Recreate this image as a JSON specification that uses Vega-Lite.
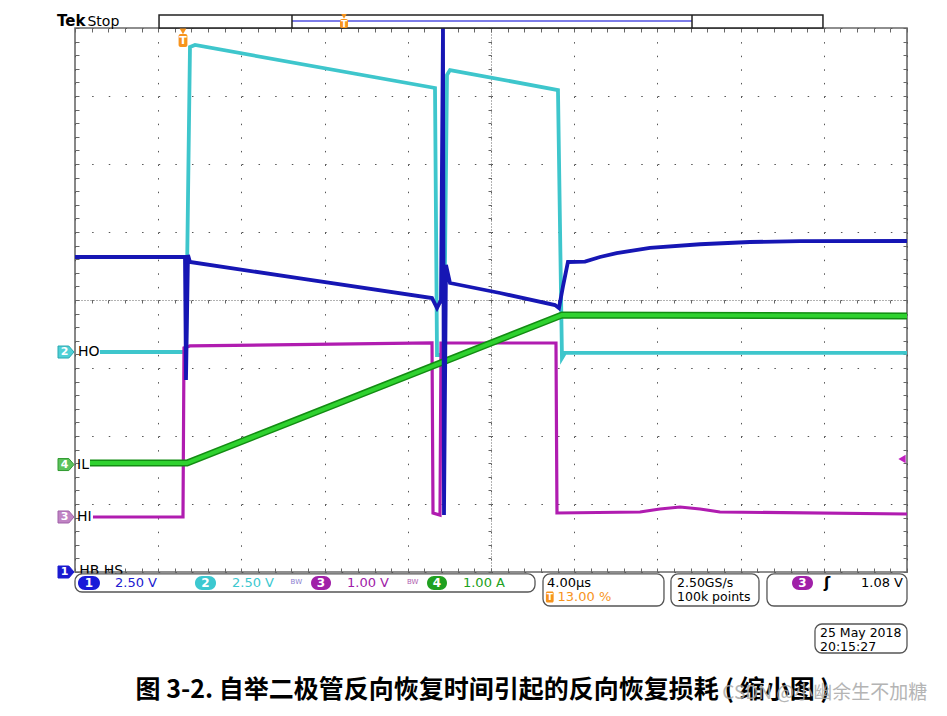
{
"$schema": "https://vega.github.io/schema/vega-lite/v6.json",
"width": 832, "height": 544,
"autosize": {"type": "none"},
"padding": {"left": 75, "top": 28, "right": 40, "bottom": 144},
"background": "white",
"config": {"view": {"stroke": "#6a6a6a", "strokeWidth": 1.6}, "text": {"font": "DejaVu Sans"}},
"datasets": {
 "ch1": [{"t":0,"v":0.632},{"t":1.322,"v":0.632},{"t":1.334,"v":-1.176},{"t":1.358,"v":0.662},{"t":1.382,"v":0.559},{"t":2.704,"v":0.318},{"t":4.291,"v":0.029},{"t":4.351,"v":-0.118},{"t":4.399,"v":0.0},{"t":4.423,"v":4.0},{"t":4.435,"v":-3.162},{"t":4.459,"v":0.515},{"t":4.507,"v":0.25},{"t":5.108,"v":0.103},{"t":5.769,"v":-0.074},{"t":5.817,"v":-0.118},{"t":5.865,"v":0.2},{"t":5.925,"v":0.559},{"t":6.13,"v":0.565},{"t":6.31,"v":0.632},{"t":6.51,"v":0.69},{"t":6.911,"v":0.765},{"t":7.512,"v":0.82},{"t":8.113,"v":0.853},{"t":8.714,"v":0.865},{"t":10,"v":0.868}],
 "ch2": [{"t":0.3,"v":-0.765},{"t":1.334,"v":-0.765},{"t":1.382,"v":3.721},{"t":1.442,"v":3.75},{"t":4.327,"v":3.118},{"t":4.351,"v":-0.809},{"t":4.435,"v":-0.809},{"t":4.471,"v":3.309},{"t":4.507,"v":3.382},{"t":5.805,"v":3.088},{"t":5.853,"v":-0.853},{"t":5.889,"v":-0.779},{"t":10,"v":-0.779}],
 "ch3": [{"t":0.216,"v":-3.191},{"t":1.298,"v":-3.191},{"t":1.31,"v":-0.706},{"t":1.382,"v":-0.676},{"t":4.291,"v":-0.632},{"t":4.303,"v":-3.132},{"t":4.387,"v":-3.162},{"t":4.399,"v":-0.632},{"t":5.781,"v":-0.632},{"t":5.793,"v":-3.132},{"t":6.791,"v":-3.118},{"t":7.031,"v":-3.074},{"t":7.272,"v":-3.044},{"t":7.512,"v":-3.074},{"t":7.752,"v":-3.118},{"t":10,"v":-3.147}],
 "ch4": [{"t":0.18,"v":-2.397},{"t":1.346,"v":-2.397},{"t":5.853,"v":-0.221},{"t":10,"v":-0.235}]
},
"data": {"values": [{}]},
"resolve": {"axis": {"x": "independent", "y": "independent"}},
"layer": [
 {"data": {"name": "ch2"}, "mark": {"type": "line", "color": "#3ec6cc", "strokeWidth": 3.8},
  "encoding": {
   "x": {"field": "t", "type": "quantitative", "scale": {"domain": [0, 10], "nice": false, "zero": false},
         "axis": {"orient": "bottom", "tickCount": 10, "grid": true, "gridDash": [1.5, 12.1], "gridColor": "#555", "gridWidth": 1, "ticks": false, "labels": false, "domain": false, "title": null}},
   "y": {"field": "v", "type": "quantitative", "scale": {"domain": [-4, 4], "nice": false, "zero": false},
         "axis": {"orient": "left", "tickCount": 8, "grid": true, "gridDash": [1.5, 15.14], "gridColor": "#555", "gridWidth": 1, "ticks": false, "labels": false, "domain": false, "title": null}}}},
 {"data": {"name": "ch3"}, "mark": {"type": "line", "color": "#b01cb0", "strokeWidth": 3.2},
  "encoding": {
   "x": {"field": "t", "type": "quantitative", "scale": {"domain": [0, 10], "nice": false, "zero": false},
         "axis": {"orient": "top", "tickCount": 50, "tickSize": -4, "tickColor": "#666", "labels": false, "domain": false, "grid": false, "title": null}},
   "y": {"field": "v", "type": "quantitative", "scale": {"domain": [-4, 4], "nice": false, "zero": false},
         "axis": {"orient": "right", "tickCount": 40, "tickSize": -4, "tickColor": "#666", "labels": false, "domain": false, "grid": false, "title": null}}}},
 {"data": {"name": "ch4"}, "mark": {"type": "line", "color": "#138c13", "strokeWidth": 7},
  "encoding": {
   "x": {"field": "t", "type": "quantitative", "scale": {"domain": [0, 10], "nice": false, "zero": false},
         "axis": {"orient": "bottom", "tickCount": 50, "tickSize": -4, "tickColor": "#666", "labels": false, "domain": false, "grid": false, "title": null}},
   "y": {"field": "v", "type": "quantitative", "scale": {"domain": [-4, 4], "nice": false, "zero": false},
         "axis": {"orient": "left", "tickCount": 40, "tickSize": -4, "tickColor": "#666", "labels": false, "domain": false, "grid": false, "title": null}}}},
 {"data": {"name": "ch4"}, "mark": {"type": "line", "color": "#2fd22f", "strokeWidth": 4},
  "encoding": {
   "x": {"field": "t", "type": "quantitative", "scale": {"domain": [0, 10], "nice": false, "zero": false},
         "axis": {"orient": "bottom", "offset": -272, "tickCount": 50, "tickSize": 3, "tickColor": "#666", "domain": true, "domainDash": [1, 2], "domainColor": "#666", "labels": false, "grid": false, "title": null}},
   "y": {"field": "v", "type": "quantitative", "scale": {"domain": [-4, 4], "nice": false, "zero": false},
         "axis": {"orient": "left", "offset": -416, "tickCount": 40, "tickSize": 3, "tickColor": "#666", "domain": true, "domainDash": [1, 2], "domainColor": "#666", "labels": false, "grid": false, "title": null}}}},
 {"data": {"name": "ch1"}, "mark": {"type": "line", "color": "#1616b4", "strokeWidth": 3.8},
  "encoding": {
   "x": {"field": "t", "type": "quantitative", "scale": {"domain": [0, 10], "nice": false, "zero": false}, "axis": null},
   "y": {"field": "v", "type": "quantitative", "scale": {"domain": [-4, 4], "nice": false, "zero": false}, "axis": null}}},

 {"mark": {"type": "text", "text": "Tek", "fontSize": 15, "fontWeight": "bold", "align": "left", "baseline": "alphabetic", "color": "#000", "letterSpacing": -1},
  "encoding": {"x": {"datum": -0.216, "type": "quantitative", "axis": null}, "y": {"datum": 4.03, "type": "quantitative", "axis": null}}},
 {"mark": {"type": "text", "text": "Stop", "fontSize": 14, "align": "left", "baseline": "alphabetic", "color": "#000"},
  "encoding": {"x": {"datum": 0.15, "type": "quantitative", "axis": null}, "y": {"datum": 4.03, "type": "quantitative", "axis": null}}},
 {"mark": {"type": "rect", "fill": "white", "stroke": "#222", "strokeWidth": 1.5},
  "encoding": {"x": {"datum": 1.01, "type": "quantitative", "axis": null}, "x2": {"datum": 8.99}, "y": {"datum": 4.0, "type": "quantitative", "axis": null}, "y2": {"datum": 4.191}}},
 {"mark": {"type": "rule", "color": "#5050e0", "strokeWidth": 1.5},
  "encoding": {"x": {"datum": 2.608, "type": "quantitative", "axis": null}, "x2": {"datum": 7.416}, "y": {"datum": 4.103, "type": "quantitative", "axis": null}}},
 {"mark": {"type": "rule", "color": "#222", "strokeWidth": 1.5},
  "encoding": {"x": {"datum": 2.608, "type": "quantitative", "axis": null}, "y": {"datum": 4.0, "type": "quantitative", "axis": null}, "y2": {"datum": 4.191}}},
 {"mark": {"type": "rule", "color": "#222", "strokeWidth": 1.5},
  "encoding": {"x": {"datum": 7.416, "type": "quantitative", "axis": null}, "y": {"datum": 4.0, "type": "quantitative", "axis": null}, "y2": {"datum": 4.191}}},
 {"mark": {"type": "rect", "fill": "#f7941d", "cornerRadius": 2},
  "encoding": {"x": {"datum": 3.185, "type": "quantitative", "axis": null}, "x2": {"datum": 3.281}, "y": {"datum": 4.0, "type": "quantitative", "axis": null}, "y2": {"datum": 4.132}}},
 {"mark": {"type": "point", "shape": "triangle-down", "filled": true, "color": "#f7941d", "size": 30, "opacity": 1},
  "encoding": {"x": {"datum": 3.233, "type": "quantitative", "axis": null}, "y": {"datum": 4.17, "type": "quantitative", "axis": null}}},
 {"mark": {"type": "text", "text": "T", "fontSize": 9, "fontWeight": "bold", "color": "white", "align": "center", "baseline": "middle"},
  "encoding": {"x": {"datum": 3.233, "type": "quantitative", "axis": null}, "y": {"datum": 4.066, "type": "quantitative", "axis": null}}},

 {"mark": {"type": "point", "shape": "triangle-down", "filled": true, "color": "#f7941d", "size": 45, "opacity": 1},
  "encoding": {"x": {"datum": 1.298, "type": "quantitative", "axis": null}, "y": {"datum": 3.95, "type": "quantitative", "axis": null}}},
 {"mark": {"type": "rect", "fill": "#f7941d", "cornerRadius": 2},
  "encoding": {"x": {"datum": 1.245, "type": "quantitative", "axis": null}, "x2": {"datum": 1.351}, "y": {"datum": 3.721, "type": "quantitative", "axis": null}, "y2": {"datum": 3.912}}},
 {"mark": {"type": "text", "text": "T", "fontSize": 11, "fontWeight": "bold", "color": "white", "align": "center", "baseline": "middle"},
  "encoding": {"x": {"datum": 1.298, "type": "quantitative", "axis": null}, "y": {"datum": 3.816, "type": "quantitative", "axis": null}}},

 {"mark": {"type": "point", "shape": "M-1,-0.75L0.35,-0.75L1,0L0.35,0.75L-1,0.75Z", "filled": true, "fill": "#4fd0d6", "stroke": "#2aa8b0", "strokeWidth": 1, "size": 256, "opacity": 1},
  "encoding": {"x": {"datum": -0.108, "type": "quantitative", "axis": null}, "y": {"datum": -0.765, "type": "quantitative", "axis": null}}},
 {"mark": {"type": "text", "text": "2", "fontSize": 11, "fontWeight": "bold", "color": "white", "align": "center", "baseline": "middle"},
  "encoding": {"x": {"datum": -0.125, "type": "quantitative", "axis": null}, "y": {"datum": -0.765, "type": "quantitative", "axis": null}}},
 {"mark": {"type": "text", "text": "HO", "fontSize": 14, "color": "#000", "align": "left", "baseline": "middle"},
  "encoding": {"x": {"datum": 0.036, "type": "quantitative", "axis": null}, "y": {"datum": -0.765, "type": "quantitative", "axis": null}}},
 {"mark": {"type": "point", "shape": "M-1,-0.75L0.35,-0.75L1,0L0.35,0.75L-1,0.75Z", "filled": true, "fill": "#5cc25c", "stroke": "#2f9a2f", "strokeWidth": 1, "size": 256, "opacity": 1},
  "encoding": {"x": {"datum": -0.108, "type": "quantitative", "axis": null}, "y": {"datum": -2.42, "type": "quantitative", "axis": null}}},
 {"mark": {"type": "text", "text": "4", "fontSize": 11, "fontWeight": "bold", "color": "white", "align": "center", "baseline": "middle"},
  "encoding": {"x": {"datum": -0.125, "type": "quantitative", "axis": null}, "y": {"datum": -2.42, "type": "quantitative", "axis": null}}},
 {"mark": {"type": "text", "text": "IL", "fontSize": 14, "color": "#000", "align": "left", "baseline": "middle"},
  "encoding": {"x": {"datum": 0.024, "type": "quantitative", "axis": null}, "y": {"datum": -2.42, "type": "quantitative", "axis": null}}},
 {"mark": {"type": "point", "shape": "M-1,-0.75L0.35,-0.75L1,0L0.35,0.75L-1,0.75Z", "filled": true, "fill": "#c084c4", "stroke": "#a060a8", "strokeWidth": 1, "size": 256, "opacity": 1},
  "encoding": {"x": {"datum": -0.108, "type": "quantitative", "axis": null}, "y": {"datum": -3.191, "type": "quantitative", "axis": null}}},
 {"mark": {"type": "text", "text": "3", "fontSize": 11, "fontWeight": "bold", "color": "white", "align": "center", "baseline": "middle"},
  "encoding": {"x": {"datum": -0.125, "type": "quantitative", "axis": null}, "y": {"datum": -3.191, "type": "quantitative", "axis": null}}},
 {"mark": {"type": "text", "text": "HI", "fontSize": 14, "color": "#000", "align": "left", "baseline": "middle"},
  "encoding": {"x": {"datum": 0.024, "type": "quantitative", "axis": null}, "y": {"datum": -3.191, "type": "quantitative", "axis": null}}},
 {"mark": {"type": "text", "text": "HB  HS", "fontSize": 14, "color": "#000", "align": "left", "baseline": "middle"},
  "encoding": {"x": {"datum": 0.05, "type": "quantitative", "axis": null}, "y": {"datum": -3.985, "type": "quantitative", "axis": null}}},
 {"mark": {"type": "point", "shape": "triangle-left", "filled": true, "color": "#c020c0", "size": 70, "opacity": 1},
  "encoding": {"x": {"datum": 9.94, "type": "quantitative", "axis": null}, "y": {"datum": -2.338, "type": "quantitative", "axis": null}}},

 {"mark": {"type": "rect", "fill": "white", "stroke": "#555", "strokeWidth": 1.3, "cornerRadius": 7},
  "encoding": {"x": {"datum": 0.0, "type": "quantitative", "axis": null}, "x2": {"datum": 5.529}, "y": {"datum": -4.029, "type": "quantitative", "axis": null}, "y2": {"datum": -4.294}}},
 {"mark": {"type": "point", "shape": "M-1,-0.75L0.35,-0.75L1,0L0.35,0.75L-1,0.75Z", "filled": true, "fill": "#1a1ad0", "stroke": "#1a1ad0", "strokeWidth": 1, "size": 256, "opacity": 1},
  "encoding": {"x": {"datum": -0.108, "type": "quantitative", "axis": null}, "y": {"datum": -4.0, "type": "quantitative", "axis": null}}},
 {"mark": {"type": "text", "text": "1", "fontSize": 11, "fontWeight": "bold", "color": "white", "align": "center", "baseline": "middle"},
  "encoding": {"x": {"datum": -0.125, "type": "quantitative", "axis": null}, "y": {"datum": -4.0, "type": "quantitative", "axis": null}}},
 {"mark": {"type": "rect", "fill": "white", "stroke": "#555", "strokeWidth": 1.3, "cornerRadius": 7},
  "encoding": {"x": {"datum": 5.625, "type": "quantitative", "axis": null}, "x2": {"datum": 7.079}, "y": {"datum": -4.029, "type": "quantitative", "axis": null}, "y2": {"datum": -4.5}}},
 {"mark": {"type": "rect", "fill": "white", "stroke": "#555", "strokeWidth": 1.3, "cornerRadius": 7},
  "encoding": {"x": {"datum": 7.163, "type": "quantitative", "axis": null}, "x2": {"datum": 8.221}, "y": {"datum": -4.029, "type": "quantitative", "axis": null}, "y2": {"datum": -4.5}}},
 {"mark": {"type": "rect", "fill": "white", "stroke": "#555", "strokeWidth": 1.3, "cornerRadius": 7},
  "encoding": {"x": {"datum": 8.317, "type": "quantitative", "axis": null}, "x2": {"datum": 10.0}, "y": {"datum": -4.029, "type": "quantitative", "axis": null}, "y2": {"datum": -4.5}}},
 {"mark": {"type": "rect", "fill": "white", "stroke": "#555", "strokeWidth": 1.3, "cornerRadius": 7},
  "encoding": {"x": {"datum": 8.894, "type": "quantitative", "axis": null}, "x2": {"datum": 10.0}, "y": {"datum": -4.765, "type": "quantitative", "axis": null}, "y2": {"datum": -5.191}}},

 {"mark": {"type": "rect", "fill": "#1a1ad8", "cornerRadius": 7},
  "encoding": {"x": {"datum": 0.036, "type": "quantitative", "axis": null}, "x2": {"datum": 0.3}, "y": {"datum": -4.059, "type": "quantitative", "axis": null}, "y2": {"datum": -4.265}}},
 {"mark": {"type": "rect", "fill": "#3cc8d0", "cornerRadius": 7},
  "encoding": {"x": {"datum": 1.442, "type": "quantitative", "axis": null}, "x2": {"datum": 1.695}, "y": {"datum": -4.059, "type": "quantitative", "axis": null}, "y2": {"datum": -4.265}}},
 {"mark": {"type": "rect", "fill": "#a020a8", "cornerRadius": 7},
  "encoding": {"x": {"datum": 2.837, "type": "quantitative", "axis": null}, "x2": {"datum": 3.077}, "y": {"datum": -4.059, "type": "quantitative", "axis": null}, "y2": {"datum": -4.265}}},
 {"mark": {"type": "rect", "fill": "#20a020", "cornerRadius": 7},
  "encoding": {"x": {"datum": 4.231, "type": "quantitative", "axis": null}, "x2": {"datum": 4.471}, "y": {"datum": -4.059, "type": "quantitative", "axis": null}, "y2": {"datum": -4.265}}},
 {"mark": {"type": "rect", "fill": "#a020a8", "cornerRadius": 7},
  "encoding": {"x": {"datum": 8.618, "type": "quantitative", "axis": null}, "x2": {"datum": 8.87}, "y": {"datum": -4.059, "type": "quantitative", "axis": null}, "y2": {"datum": -4.265}}},
 {"mark": {"type": "text", "text": "1", "fontSize": 12, "fontWeight": "bold", "color": "white", "align": "center", "baseline": "middle"},
  "encoding": {"x": {"datum": 0.168, "type": "quantitative", "axis": null}, "y": {"datum": -4.162, "type": "quantitative", "axis": null}}},
 {"mark": {"type": "text", "text": "2", "fontSize": 12, "fontWeight": "bold", "color": "white", "align": "center", "baseline": "middle"},
  "encoding": {"x": {"datum": 1.569, "type": "quantitative", "axis": null}, "y": {"datum": -4.162, "type": "quantitative", "axis": null}}},
 {"mark": {"type": "text", "text": "3", "fontSize": 12, "fontWeight": "bold", "color": "white", "align": "center", "baseline": "middle"},
  "encoding": {"x": {"datum": 2.957, "type": "quantitative", "axis": null}, "y": {"datum": -4.162, "type": "quantitative", "axis": null}}},
 {"mark": {"type": "text", "text": "4", "fontSize": 12, "fontWeight": "bold", "color": "white", "align": "center", "baseline": "middle"},
  "encoding": {"x": {"datum": 4.351, "type": "quantitative", "axis": null}, "y": {"datum": -4.162, "type": "quantitative", "axis": null}}},
 {"mark": {"type": "text", "text": "3", "fontSize": 12, "fontWeight": "bold", "color": "white", "align": "center", "baseline": "middle"},
  "encoding": {"x": {"datum": 8.744, "type": "quantitative", "axis": null}, "y": {"datum": -4.162, "type": "quantitative", "axis": null}}},

 {"mark": {"type": "text", "text": "2.50 V", "fontSize": 13, "color": "#2020d0", "align": "left", "baseline": "middle"},
  "encoding": {"x": {"datum": 0.481, "type": "quantitative", "axis": null}, "y": {"datum": -4.162, "type": "quantitative", "axis": null}}},
 {"mark": {"type": "text", "text": "2.50 V", "fontSize": 13, "color": "#3cc8d0", "align": "left", "baseline": "middle"},
  "encoding": {"x": {"datum": 1.887, "type": "quantitative", "axis": null}, "y": {"datum": -4.162, "type": "quantitative", "axis": null}}},
 {"mark": {"type": "text", "text": "BW", "fontSize": 7, "color": "#8a80d0", "align": "center", "baseline": "middle"},
  "encoding": {"x": {"datum": 2.66, "type": "quantitative", "axis": null}, "y": {"datum": -4.15, "type": "quantitative", "axis": null}}},
 {"mark": {"type": "text", "text": "1.00 V", "fontSize": 13, "color": "#a020a8", "align": "left", "baseline": "middle"},
  "encoding": {"x": {"datum": 3.269, "type": "quantitative", "axis": null}, "y": {"datum": -4.162, "type": "quantitative", "axis": null}}},
 {"mark": {"type": "text", "text": "BW", "fontSize": 7, "color": "#b060b0", "align": "center", "baseline": "middle"},
  "encoding": {"x": {"datum": 4.06, "type": "quantitative", "axis": null}, "y": {"datum": -4.15, "type": "quantitative", "axis": null}}},
 {"mark": {"type": "text", "text": "1.00 A", "fontSize": 13, "color": "#20a020", "align": "left", "baseline": "middle"},
  "encoding": {"x": {"datum": 4.663, "type": "quantitative", "axis": null}, "y": {"datum": -4.162, "type": "quantitative", "axis": null}}},

 {"mark": {"type": "text", "text": "4.00µs", "fontSize": 13, "color": "#000", "align": "left", "baseline": "middle"},
  "encoding": {"x": {"datum": 5.673, "type": "quantitative", "axis": null}, "y": {"datum": -4.162, "type": "quantitative", "axis": null}}},
 {"mark": {"type": "rect", "fill": "#f7941d", "cornerRadius": 1.5},
  "encoding": {"x": {"datum": 5.66, "type": "quantitative", "axis": null}, "x2": {"datum": 5.753}, "y": {"datum": -4.285, "type": "quantitative", "axis": null}, "y2": {"datum": -4.45}}},
 {"mark": {"type": "text", "text": "T", "fontSize": 9, "fontWeight": "bold", "color": "white", "align": "center", "baseline": "middle"},
  "encoding": {"x": {"datum": 5.706, "type": "quantitative", "axis": null}, "y": {"datum": -4.368, "type": "quantitative", "axis": null}}},
 {"mark": {"type": "text", "text": "13.00 %", "fontSize": 13, "color": "#f7941d", "align": "left", "baseline": "middle"},
  "encoding": {"x": {"datum": 5.8, "type": "quantitative", "axis": null}, "y": {"datum": -4.368, "type": "quantitative", "axis": null}}},
 {"mark": {"type": "text", "text": "2.50GS/s", "fontSize": 12.5, "color": "#000", "align": "left", "baseline": "middle"},
  "encoding": {"x": {"datum": 7.236, "type": "quantitative", "axis": null}, "y": {"datum": -4.162, "type": "quantitative", "axis": null}}},
 {"mark": {"type": "text", "text": "100k points", "fontSize": 12.5, "color": "#000", "align": "left", "baseline": "middle"},
  "encoding": {"x": {"datum": 7.236, "type": "quantitative", "axis": null}, "y": {"datum": -4.368, "type": "quantitative", "axis": null}}},
 {"mark": {"type": "text", "text": "ʃ", "fontSize": 15, "fontWeight": "bold", "color": "#000", "align": "center", "baseline": "middle"},
  "encoding": {"x": {"datum": 9.04, "type": "quantitative", "axis": null}, "y": {"datum": -4.162, "type": "quantitative", "axis": null}}},
 {"mark": {"type": "text", "text": "1.08 V", "fontSize": 13, "color": "#000", "align": "right", "baseline": "middle"},
  "encoding": {"x": {"datum": 9.952, "type": "quantitative", "axis": null}, "y": {"datum": -4.162, "type": "quantitative", "axis": null}}},
 {"mark": {"type": "text", "text": "25 May 2018", "fontSize": 12.5, "color": "#000", "align": "left", "baseline": "middle"},
  "encoding": {"x": {"datum": 8.954, "type": "quantitative", "axis": null}, "y": {"datum": -4.897, "type": "quantitative", "axis": null}}},
 {"mark": {"type": "text", "text": "20:15:27", "fontSize": 12.5, "color": "#000", "align": "left", "baseline": "middle"},
  "encoding": {"x": {"datum": 8.954, "type": "quantitative", "axis": null}, "y": {"datum": -5.103, "type": "quantitative", "axis": null}}},

 {"mark": {"type": "text", "text": "图 3-2. 自举二极管反向恢复时间引起的反向恢复损耗 ( 缩小图 )", "font": "Noto Sans CJK SC", "fontSize": 25, "fontWeight": "bold", "color": "#000", "align": "center", "baseline": "middle"},
  "encoding": {"x": {"datum": 4.9, "type": "quantitative", "axis": null}, "y": {"datum": -5.735, "type": "quantitative", "axis": null}}},
 {"mark": {"type": "text", "text": "CSDN @小幽余生不加糖", "font": "Noto Sans CJK SC", "fontSize": 19, "color": "#a8a8a8", "opacity": 0.85, "align": "left", "baseline": "middle"},
  "encoding": {"x": {"datum": 7.78, "type": "quantitative", "axis": null}, "y": {"datum": -5.78, "type": "quantitative", "axis": null}}}
]
}
